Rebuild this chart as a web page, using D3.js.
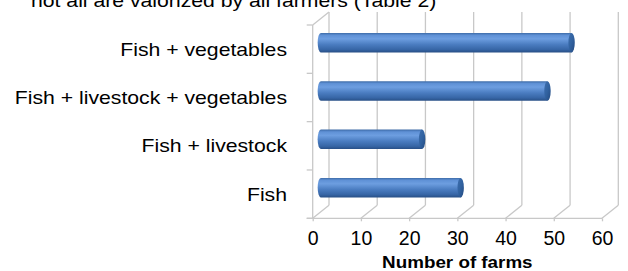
<!DOCTYPE html>
<html>
<head>
<meta charset="utf-8">
<script src="https://cdn.jsdelivr.net/npm/d3@7"></script>
<style>
  body { margin: 0; background: #fff; }
  text { font-family: Arial, "Liberation Sans", sans-serif; fill: #000; }
</style>
</head>
<body>
<div id="chart"></div>
<script>
// data
var categories = ["Fish", "Fish + livestock", "Fish + livestock + vegetables", "Fish + vegetables"];
var farms = [29, 21, 47, 52];
var xTicks = [0, 10, 20, 30, 40, 50, 60];
var xTitle = "Number of farms";
var topLine = "not all are valorized by all farmers (Table 2)";

var W = 628, H = 271;
var front = {left: 312.7, right: 602, top: 25, bottom: 218.3};
var depth = {dx: 16.3, dy: -13};
var grid = "#c8c8c8";
var stretch = 1.14; // the original text is set a little wide

var svg = d3.select("#chart").append("svg")
  .attr("width", W).attr("height", H);

var x = d3.scaleLinear().domain([0, 60]).range([front.left, front.right]);
var y = d3.scaleBand().domain(categories.slice().reverse())
  .range([front.top, front.bottom]);

// gradients for the cylinders
var defs = svg.append("defs");
var body = defs.append("linearGradient").attr("id", "cyl")
  .attr("x1", 0).attr("y1", 0).attr("x2", 0).attr("y2", 1);
[[0, "#3c6aa6"], [0.12, "#5f91d6"], [0.3, "#6d9ee0"], [0.6, "#4a7cc0"], [0.85, "#3766a6"], [1, "#284f86"]]
  .forEach(function(s) { body.append("stop").attr("offset", s[0]).attr("stop-color", s[1]); });
var cap = defs.append("linearGradient").attr("id", "cap")
  .attr("x1", 0).attr("y1", 0).attr("x2", 1).attr("y2", 1);
[[0, "#3d6eae"], [0.5, "#3162a0"], [1, "#244a80"]]
  .forEach(function(s) { cap.append("stop").attr("offset", s[0]).attr("stop-color", s[1]); });

// partial text line at the top (cut off by the crop)
svg.append("g").attr("transform", "translate(31,7) scale(" + stretch + ",1)")
  .append("text").style("font-size", "18.6px").text(topLine);

var g = svg.append("g");

// back wall gridlines
g.selectAll(".vgrid").data(xTicks).enter().append("line")
  .attr("x1", function(d) { return x(d) + depth.dx; })
  .attr("x2", function(d) { return x(d) + depth.dx; })
  .attr("y1", front.top + depth.dy)
  .attr("y2", front.bottom + depth.dy)
  .attr("stroke", grid).attr("stroke-width", 1.3);

// floor diagonals
g.selectAll(".fgrid").data(xTicks).enter().append("line")
  .attr("x1", function(d) { return x(d); })
  .attr("x2", function(d) { return x(d) + depth.dx; })
  .attr("y1", front.bottom)
  .attr("y2", front.bottom + depth.dy)
  .attr("stroke", grid).attr("stroke-width", 1.3);

// left wall
g.append("line").attr("x1", front.left).attr("x2", front.left)
  .attr("y1", front.top).attr("y2", front.bottom)
  .attr("stroke", grid).attr("stroke-width", 1.3);
g.append("line").attr("x1", front.left).attr("x2", front.left + depth.dx)
  .attr("y1", front.top).attr("y2", front.top + depth.dy)
  .attr("stroke", grid).attr("stroke-width", 1.3);

// category axis (ticks at band edges, labels at band centres)
var edges = y.domain().map(function(c) { return y(c); }).concat([front.bottom]);
g.selectAll(".ytick").data(edges).enter().append("line")
  .attr("x1", front.left - 6).attr("x2", front.left)
  .attr("y1", function(d) { return d; }).attr("y2", function(d) { return d; })
  .attr("stroke", grid).attr("stroke-width", 1.3);
g.selectAll(".ylab").data(categories).enter().append("g")
  .attr("transform", function(d) {
    return "translate(287," + (y(d) + y.bandwidth() / 2) + ") scale(" + stretch + ",1)";
  })
  .append("text")
  .attr("dy", "0.35em").attr("text-anchor", "end")
  .style("font-size", "18.6px").text(function(d) { return d; });

// value axis on the front floor
var xAxis = d3.axisBottom(x).tickValues(xTicks).tickSize(3).tickPadding(10);
var ax = g.append("g").attr("transform", "translate(0," + front.bottom + ")").call(xAxis);
ax.select(".domain").attr("stroke", grid).attr("stroke-width", 1.3)
  .attr("d", "M" + (front.left - 6) + ",0H" + front.right);
ax.selectAll(".tick line").attr("stroke", grid).attr("stroke-width", 1.3);
ax.selectAll(".tick text").style("font-size", "19.5px")
  .style("font-family", "Arial, 'Liberation Sans', sans-serif").attr("fill", "#000");

svg.append("g")
  .attr("transform", "translate(" + ((x(0) + x(60)) / 2) + ",267.5) scale(" + stretch + ",1)")
  .append("text")
  .attr("text-anchor", "middle").style("font-size", "16.5px").style("font-weight", "bold")
  .text(xTitle);

// cylinders, placed half way into the depth
var thick = 19.5, rx = 3.2;
var bars = g.selectAll(".bar").data(categories).enter().append("g")
  .attr("transform", function(d) {
    return "translate(" + (depth.dx / 2) + "," + (y(d) + y.bandwidth() / 2 + depth.dy / 2) + ")";
  });
bars.append("path")
  .attr("d", function(d, i) {
    var x0 = x(0), x1 = x(farms[i]), h = thick / 2;
    return "M" + x1 + "," + (-h) + "H" + x0 +
      "A" + rx + "," + h + " 0 0 0 " + x0 + "," + h +
      "H" + x1 + "Z";
  })
  .attr("fill", "url(#cyl)");
bars.append("ellipse")
  .attr("cx", function(d, i) { return x(farms[i]); })
  .attr("cy", 0).attr("rx", rx).attr("ry", thick / 2)
  .attr("fill", "url(#cap)");
</script>
</body>
</html>
